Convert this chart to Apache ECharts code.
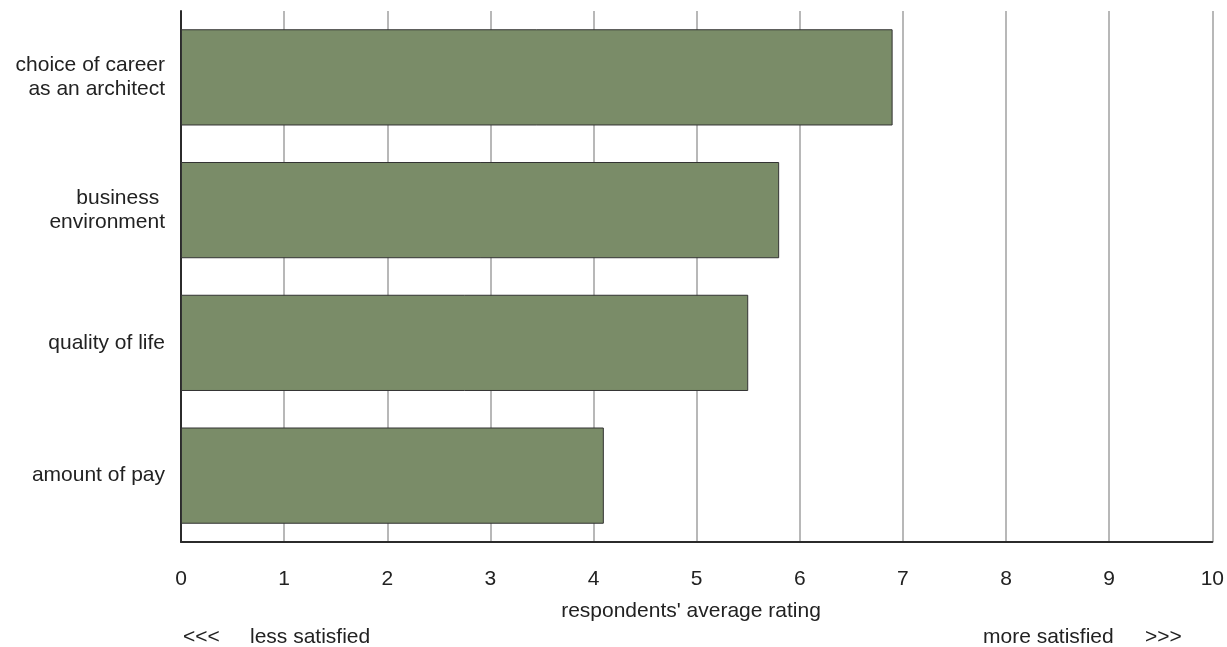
<!DOCTYPE html>
<html>
<head>
<meta charset="utf-8">
<script src="https://cdn.jsdelivr.net/npm/echarts@6/dist/echarts.min.js"></script>
<style>html,body{margin:0;padding:0;background:#fff}#c{width:1227px;height:647px}</style>
</head>
<body>
<div id="c"></div>
<script>
const categories = ["amount of pay", "quality of life", "business \nenvironment", "choice of career\nas an architect"];
const ratings = [4.1, 5.5, 5.8, 6.9];
const xTicks = [0, 1, 2, 3, 4, 5, 6, 7, 8, 9, 10];
const axisTitle = "respondents' average rating";
const lowArrow = "<<<";
const lowLabel = "less satisfied";
const highLabel = "more satisfied";
const highArrow = ">>>";

const chart = echarts.init(document.getElementById('c'), null, {renderer: 'canvas'});
const font = "'Liberation Sans', Arial, sans-serif";
const f21 = "21px " + font;
chart.setOption({
  animation: false,
  backgroundColor: '#fff',
  grid: {left: 181, right: 12, top: 11, bottom: 105, containLabel: false},
  xAxis: {
    type: 'value', min: xTicks[0], max: xTicks[xTicks.length - 1], interval: 1,
    axisLine: {show: true, lineStyle: {color: '#2b2b2b', width: 2}},
    axisTick: {show: false},
    splitLine: {show: true, lineStyle: {color: '#a0a0a0', width: 1.5}},
    axisLabel: {color: '#222', fontSize: 21, fontFamily: font, margin: 27}
  },
  yAxis: {
    type: 'category', data: categories,
    axisLine: {show: true, lineStyle: {color: '#2b2b2b', width: 2}},
    axisTick: {show: false},
    splitLine: {show: false},
    axisLabel: {color: '#222', fontSize: 21, fontFamily: font, margin: 16, lineHeight: 24, align: 'right'}
  },
  series: [{
    type: 'bar', data: ratings, barCategoryGap: '27.5%',
    itemStyle: {color: '#7a8c68', borderColor: '#333', borderWidth: 1}
  }],
  graphic: [
    {type: 'text', x: 691, y: 601, style: {text: axisTitle, font: f21, fill: '#222', textAlign: 'center', textVerticalAlign: 'top'}},
    {type: 'text', x: 183, y: 627, style: {text: lowArrow, font: f21, fill: '#222', textVerticalAlign: 'top'}},
    {type: 'text', x: 250, y: 627, style: {text: lowLabel, font: f21, fill: '#222', textVerticalAlign: 'top'}},
    {type: 'text', x: 983, y: 627, style: {text: highLabel, font: f21, fill: '#222', textVerticalAlign: 'top'}},
    {type: 'text', x: 1145, y: 627, style: {text: highArrow, font: f21, fill: '#222', textVerticalAlign: 'top'}}
  ]
});
</script>
</body>
</html>
